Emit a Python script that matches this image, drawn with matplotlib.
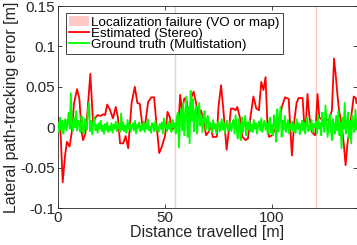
import numpy as np
import matplotlib
matplotlib.use("Agg")
import matplotlib.pyplot as plt
from matplotlib.patches import Patch
from matplotlib.lines import Line2D

plt.rcParams['font.family'] = ['Liberation Sans', 'DejaVu Sans']

# Estimated (stereo) lateral error: distance [m], error [m]
red_x = [0, 1.0, 2.2, 3.3, 4.2, 5.4, 6.5, 7.5, 8.9, 10.0, 11.0, 11.7, 12.8, 13.8, 15.1, 16.4,
         17.5, 18.5, 20.0, 21.0, 22.0, 23.0, 24.2, 25.7, 27.0, 28.0, 29.0, 30.5, 31.6, 32.8,
         34.4, 35.9, 37.1, 38.2, 39.3, 40.5, 42.1, 43.6, 44.9, 46.0, 47.3, 48.4, 50.0, 51.2,
         52.3, 53.0, 54.3, 56.3, 57.1, 57.9, 59.1, 60.2, 61.0, 62.2, 63.4, 64.6, 65.6, 66.8,
         68.0, 69.2, 70.3, 71.5, 72.3, 74.2, 75.0, 76.2, 77.3, 78.8, 80.0, 80.8, 81.8, 83.0,
         83.8, 85.0, 86.2, 87.7, 88.8, 89.7, 91.3, 92.7, 93.9, 95.0, 96.0, 97.0, 97.8, 98.6,
         100.1, 101.6, 103.0, 104.6, 106.1, 107.8, 108.4, 109.3, 110.4, 111.5, 112.4, 114.3,
         115.0, 115.8, 116.6, 117.4, 118.6, 120.2, 121.3, 122.1, 123.6, 126.7, 128.0, 129.0,
         129.8, 130.6, 131.3, 132.6, 133.6, 134.4, 135.2, 136.7, 137.5, 138.2, 139.2, 139.5]
red_y = [0.012, 0.005, -0.068, -0.035, -0.018, -0.024, -0.005, 0.030, 0.047, 0.035, -0.005,
         -0.016, -0.008, 0.020, 0.066, 0.005, 0.012, 0.015, 0.014, 0.016, 0.015, 0.028, 0.022,
         0.011, 0.025, 0.012, -0.020, -0.020, -0.011, -0.026, 0.030, 0.050, 0.030, 0.029,
         0.005, -0.001, 0.031, 0.037, 0.037, 0.005, -0.032, -0.025, -0.011, 0.019, 0.012,
         -0.004, 0.000, 0.004, 0.040, 0.021, 0.036, 0.032, 0.003, 0.036, 0.044, 0.029, 0.012,
         0.021, 0.008, -0.010, -0.006, 0.002, -0.012, -0.012, 0.025, 0.052, 0.021, -0.028,
         0.000, 0.023, 0.023, 0.021, 0.025, 0.012, -0.012, -0.016, -0.014, 0.008, 0.038,
         0.023, 0.021, 0.056, 0.046, 0.062, 0.008, -0.012, -0.010, -0.002, 0.000, 0.025,
         0.037, 0.035, 0.007, -0.035, 0.007, 0.030, 0.036, 0.036, 0.007, 0.003, 0.041, 0.015,
         -0.006, -0.010, 0.041, 0.012, 0.009, 0.009, 0.021, 0.085, 0.064, 0.040, 0.021, 0.003,
         -0.022, -0.047, -0.022, 0.007, 0.023, 0.038, 0.036, 0.030]

# Ground truth (multistation) lateral error in mm, sampled every 0.5 m from 0 to 140 m
green_mm = [
    5, -6, 12, -3, 8, -8, 2, 10, -4, 6, 18, -2, 42, 5, -5, 12, 0, 20, -4, 8, 3,
    -6, 14, 2, -8, 10, 4, -3, 22, 30, -5, 8, -9, 6, 12, -4, 3, -7, 5, -2, 8,
    -5, 2, -8, 4, -3, 6, -6, 1, -4, 5, -7, 3, -2, 7, -5, 0, 4, -6, 17, -3,
    6, -5, 2, -7, 9, -2, 4, -6, 1, 5, -4, 8, -8, 3, -1, 6, -5, 2, -3, 7,
    -6, 4, -2, 10, -4, 1, -7, 5, 3, -5, 8, -3, 0, -6, 4, -2, 6, -8, 11, -1,
    3, -5, 7, -2, 4, -6, 9, 0, 5, -8, 12, 18, -25, 6, 22, -4, 30, -10, 15, 38,
    -12, 25, -20, 45, 8, 35, -5, 18, 26, -8, 12, 30, 2, 15, -6, 10, 20, -3, 8, 14,
    -4, 6, 2, -6, 9, -2, 4, -8, 3, 7, -5, 1, 10, -3, 5, -7, 2, 8, -4, 0,
    6, -5, 3, 9, -8, 15, -3, -14, 10, 2, -16, 12, -6, 4, 14, -10, 6, -3, 8, -5,
    3, -6, 9, -2, 5, -8, 1, 7, -4, 11, -6, 2, 8, -3, 5, -9, 4, 12, -7, 3,
    -10, 15, 6, -18, 22, -5, 10, 25, -12, 8, -3, 14, -6, 2, 9, -8, 4, -2, 7, -5,
    3, -7, 10, -2, 5, -9, 1, 8, -4, 6, -8, 3, 12, -5, 2, -3, 9, -6, 4, 0,
    7, -8, 15, -2, 5, -10, 18, 3, -6, 27, 8, -12, 4, 16, -3, -16, 10, 2, -8, 14,
    -4, 20, -10, 6, -26, 12, -2, 30, -8, 4, 18, -14, 8, -20, 14, 2, -6, 22, -3, 10]
green_x = np.linspace(0, 140, len(green_mm))
green_y = np.array(green_mm) / 1000.0

# Localization failures (distance [m])
failures = [54.7, 120.6]

xticks = [0, 50, 100]
yticks = [-0.1, -0.05, 0, 0.05, 0.1, 0.15]
ytick_labels = ['-0.1', '-0.05', '0', '0.05', '0.1', '0.15']

fig = plt.figure(figsize=(3.57, 2.45), dpi=100)
ax = fig.add_axes([58 / 357, 37 / 245, 298.5 / 357, 202 / 245])

fail_color = '#ffc8c8'
for f in failures:
    ax.axvline(f, color=fail_color, lw=1.0, zorder=1)
ax.plot(red_x, red_y, color='#ff0000', lw=1.3, zorder=2)
ax.plot(green_x, green_y, color='#00ff00', lw=1.3, zorder=3)

ax.set_xlim(0, 139.5)
ax.set_ylim(-0.1, 0.15)
ax.set_xticks(xticks)
ax.set_xticklabels([str(t) for t in xticks])
ax.set_yticks(yticks)
ax.set_yticklabels(ytick_labels)
ax.tick_params(direction='in', length=3, width=0.6, top=True, right=True,
               labelsize=11, colors='#262626', pad=2)
for s in ax.spines.values():
    s.set_linewidth(0.6)
    s.set_color('#262626')

ax.set_xlabel('Distance travelled [m]', fontsize=11.5, labelpad=0, color='#262626')
ax.set_ylabel('Lateral path-tracking error [m]', fontsize=11.5, labelpad=1, color='#262626')

handles = [Patch(facecolor=fail_color, edgecolor='none'),
           Line2D([], [], color='#ff0000', lw=1.3),
           Line2D([], [], color='#00ff00', lw=1.3)]
labels = ['Localization failure (VO or map)', 'Estimated (Stereo)', 'Ground truth (Multistation)']
leg = ax.legend(handles, labels, loc='upper left', bbox_to_anchor=(8 / 298.5, 195 / 202),
                fontsize=9.6, frameon=True, fancybox=False, borderpad=0.25,
                labelspacing=-0.1, handlelength=1.5, handletextpad=0.15,
                borderaxespad=0.0)
leg.get_frame().set_edgecolor('#262626')
leg.get_frame().set_linewidth(0.6)
leg.get_frame().set_alpha(1)

fig.savefig('out.png', dpi=100)
